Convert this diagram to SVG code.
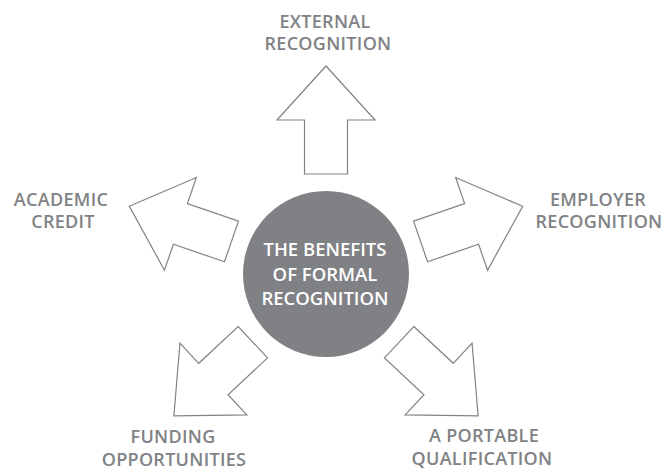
<svg xmlns="http://www.w3.org/2000/svg" width="666" height="470" viewBox="0 0 666 470">
<style>
.lbl{font-family:"Open Sans","Liberation Sans",sans-serif;font-weight:600;font-size:18px;letter-spacing:0.3px;fill:#808285;text-anchor:middle}
.ctr{font-family:"Open Sans","Liberation Sans",sans-serif;font-weight:600;font-size:18.5px;fill:#ffffff;text-anchor:middle}
.arr{fill:#ffffff;stroke:#808285;stroke-width:1.2;stroke-linejoin:miter}
</style>
<defs>
<path id="arrow" d="M -21.5,-100 L -21.5,-154 L -49,-154 L 0,-208 L 49,-154 L 21.5,-154 L 21.5,-100 Z"/>
</defs>
<rect width="666" height="470" fill="#ffffff"/>
<g id="connectors">
<use href="#arrow" class="arr" transform="translate(326,274) rotate(0)"/>
<use href="#arrow" class="arr" transform="translate(326,274) rotate(71)"/>
<use href="#arrow" class="arr" transform="translate(326,274) rotate(133)"/>
<use href="#arrow" class="arr" transform="translate(326,274) rotate(-133)"/>
<use href="#arrow" class="arr" transform="translate(326,274) rotate(-71)"/>
</g>
<g id="center">
<circle cx="326" cy="274" r="83" fill="#808184"/>
<text class="ctr" x="325" y="256">THE BENEFITS</text>
<text class="ctr" x="325" y="281">OF FORMAL</text>
<text class="ctr" x="325" y="305">RECOGNITION</text>
</g>
<g id="external">
<text class="lbl" x="325" y="28">EXTERNAL</text>
<text class="lbl" x="328" y="50">RECOGNITION</text>
</g>
<g id="employer">
<text class="lbl" x="598" y="206">EMPLOYER</text>
<text class="lbl" x="599" y="228">RECOGNITION</text>
</g>
<g id="academic">
<text class="lbl" x="61" y="206">ACADEMIC</text>
<text class="lbl" x="63" y="228">CREDIT</text>
</g>
<g id="funding">
<text class="lbl" x="173" y="443">FUNDING</text>
<text class="lbl" x="174" y="466">OPPORTUNITIES</text>
</g>
<g id="portable">
<text class="lbl" x="484" y="442">A PORTABLE</text>
<text class="lbl" x="482" y="465">QUALIFICATION</text>
</g>
</svg>
